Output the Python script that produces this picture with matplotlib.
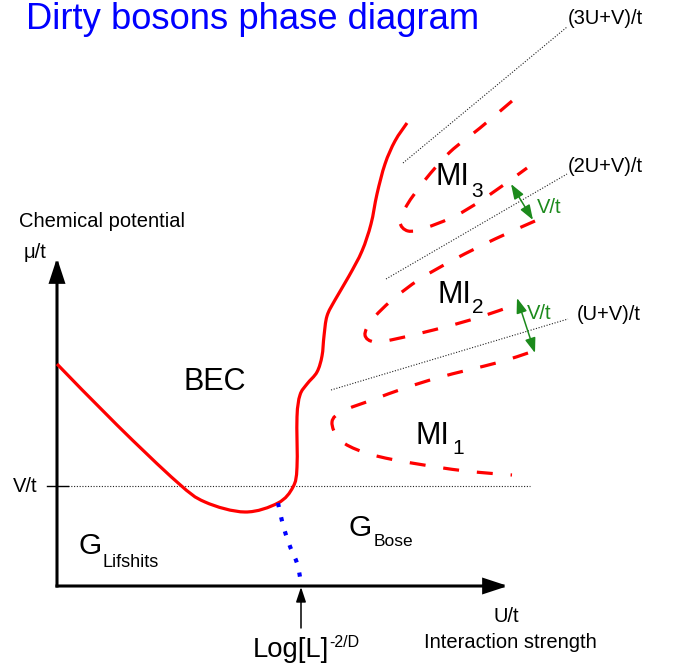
import numpy as np
import matplotlib
matplotlib.use("Agg")
import matplotlib.pyplot as plt
from matplotlib.path import Path
from matplotlib.patches import PathPatch, FancyArrowPatch

plt.rcParams['font.family'] = ['Liberation Sans', 'DejaVu Sans']

# ---- schematic data (U/t along x, mu/t along y, arbitrary units) ----
# BEC / insulator boundary (solid)
bec_u = [0.00, 0.60, 1.20, 1.48, 1.88, 2.21, 2.36, 2.40, 2.40, 2.43, 2.50, 2.60,
         2.65, 2.67, 2.70, 2.78, 2.92, 3.05, 3.14, 3.20, 3.28, 3.38, 3.50]
bec_mu = [2.22, 1.61, 1.04, 0.84, 0.74, 0.83, 0.99, 1.19, 1.69, 1.91, 2.02, 2.14,
          2.30, 2.50, 2.70, 2.86, 3.10, 3.35, 3.62, 3.92, 4.22, 4.45, 4.63]

# Mott lobes (dashed)
mi1_u = [4.71, 4.43, 4.11, 3.80, 3.48, 3.15, 2.86, 2.75, 2.83, 3.06, 3.38, 3.86, 4.18, 4.55]
mi1_mu = [2.33, 2.24, 2.16, 2.08, 1.98, 1.86, 1.75, 1.64, 1.46, 1.34, 1.26, 1.18, 1.14, 1.11]

mi2_u = [4.78, 4.38, 3.98, 3.63, 3.35, 3.15, 3.08, 3.18, 3.43, 3.88, 4.23, 4.55]
mi2_mu = [3.65, 3.47, 3.27, 3.07, 2.86, 2.66, 2.51, 2.44, 2.48, 2.59, 2.69, 2.80]

mi3_u = [4.55, 4.23, 3.93, 3.68, 3.50, 3.43, 3.51, 3.68, 3.98, 4.28, 4.70]
mi3_mu = [4.85, 4.58, 4.34, 4.06, 3.81, 3.64, 3.55, 3.58, 3.70, 3.88, 4.18]

# finite-size crossover (blue dotted)
fs_u = [2.21, 2.25, 2.29, 2.34, 2.40, 2.43]
fs_mu = [0.83, 0.65, 0.51, 0.37, 0.23, 0.09]

# reference lines mu = nU + V
ref_labels = ["(U+V)/t", "(2U+V)/t", "(3U+V)/t"]
ref_u0 = [2.74, 3.29, 3.46]
ref_mu0 = [1.96, 3.07, 4.23]
ref_u1 = [5.11, 5.10, 5.10]
ref_mu1 = [2.67, 4.12, 5.59]

v_level = 1.0          # V/t
v_line_end = 4.73
log_tick_u = 2.44      # Log[L]^(-2/D)
mu_axis_top = 3.28
u_axis_end = 4.51

RED = "#ff0000"
BLUE = "#0000ff"
GREEN = "#1c8a1c"


def smooth_path(x, y):
    """Cubic Bezier path running through the given knots."""
    p = np.column_stack([x, y]).astype(float)
    ext = np.vstack([p[0], p, p[-1]])
    verts = [p[0]]
    codes = [Path.MOVETO]
    for i in range(1, len(ext) - 2):
        p0, p1, p2, p3 = ext[i - 1], ext[i], ext[i + 1], ext[i + 2]
        verts += [p1 + (p2 - p0) / 6.0, p2 - (p3 - p1) / 6.0, p2]
        codes += [Path.CURVE4] * 3
    return Path(verts, codes)


fig = plt.figure(figsize=(6.73, 6.66), dpi=100)
ax = fig.add_axes([0, 0, 1, 1])
ax.set_xlim(-0.57, 6.16)
ax.set_ylim(-0.80, 5.86)
ax.axis('off')

# axes with arrow heads
for (x0, y0, x1, y1) in [(0, 0, 0, mu_axis_top), (0, 0, u_axis_end, 0)]:
    ax.add_patch(FancyArrowPatch((x0, y0), (x1, y1),
                                 arrowstyle="-|>,head_length=14,head_width=4.6",
                                 mutation_scale=1, lw=2.2, color="black",
                                 shrinkA=0, shrinkB=0, capstyle='projecting',
                                 joinstyle='miter', zorder=3))

# V/t level
ax.plot([-0.10, 0.11], [v_level, v_level], color="black", lw=1.0, zorder=3)
ax.plot([0.11, v_line_end], [v_level, v_level], color="#222222", lw=0.8,
        linestyle=(0, (1, 1.5)), zorder=1)

# reference lines
for u0, m0, u1, m1 in zip(ref_u0, ref_mu0, ref_u1, ref_mu1):
    ax.plot([u0, u1], [m0, m1], color="#222222", lw=0.8,
            linestyle=(0, (1, 1.5)), zorder=1)
label_pos = [(5.20, 2.66), (5.11, 4.14), (5.11, 5.62)]
for lab, (lx, ly) in zip(ref_labels, label_pos):
    ax.text(lx, ly, lab, fontsize=14.5, ha='left', va='baseline', color="black")

# phase boundaries
ax.add_patch(PathPatch(smooth_path(bec_u, bec_mu), fill=False, edgecolor=RED,
                       lw=2.3, capstyle='butt', zorder=4))
for xs, ys in [(mi1_u, mi1_mu), (mi2_u, mi2_mu), (mi3_u, mi3_mu)]:
    ax.add_patch(PathPatch(smooth_path(xs, ys), fill=False, edgecolor=RED,
                           lw=2.3, linestyle=(0, (5.0, 5.6)), capstyle='butt',
                           zorder=4))
ax.add_patch(PathPatch(smooth_path(fs_u, fs_mu), fill=False, edgecolor=BLUE,
                       lw=3.0, linestyle=(0, (1, 2.5)), capstyle='butt', zorder=4))

# V/t spacing arrows
for (a, b) in [((4.54, 4.02), (4.76, 3.66)), ((4.60, 2.88), (4.78, 2.33))]:
    ax.add_patch(FancyArrowPatch(a, b, arrowstyle="<|-|>,head_length=9,head_width=3.2",
                                 mutation_scale=1, lw=1.1, color=GREEN,
                                 shrinkA=0, shrinkB=0, zorder=5))
ax.text(4.80, 3.73, "V/t", fontsize=14.5, color=GREEN, ha='left', va='baseline')
ax.text(4.70, 2.67, "V/t", fontsize=14.5, color=GREEN, ha='left', va='baseline')

# Log[L] marker on the U axis
ax.add_patch(FancyArrowPatch((log_tick_u, -0.42), (log_tick_u, -0.01),
                             arrowstyle="-|>,head_length=9,head_width=3",
                             mutation_scale=1, lw=1.1, color="black",
                             shrinkA=0, shrinkB=0, zorder=5))
ax.text(1.96, -0.71, "Log[L]", fontsize=19.8, ha='left', va='baseline')
ax.text(2.72, -0.61, "-2/D", fontsize=11.5, ha='left', va='baseline')

# axis labels
ax.text(-0.38, 3.59, "Chemical potential", fontsize=14.5, ha='left', va='baseline')
ax.text(-0.33, 3.28, "\u03bc/t", fontsize=14.5, ha='left', va='baseline')
ax.text(-0.44, 0.94, "V/t", fontsize=14.5, ha='left', va='baseline')
ax.text(4.36, -0.36, "U/t", fontsize=14.5, ha='left', va='baseline')
ax.text(3.67, -0.62, "Interaction strength", fontsize=14.5, ha='left', va='baseline')

# phase names
ax.text(1.27, 1.96, "BEC", fontsize=22, ha='left', va='baseline')
ax.text(0.21, 0.32, "G", fontsize=21.5, ha='left', va='baseline')
ax.text(0.46, 0.19, "Lifshits", fontsize=13, ha='left', va='baseline')
ax.text(2.92, 0.50, "G", fontsize=21.5, ha='left', va='baseline')
ax.text(3.17, 0.40, "Bose", fontsize=12.5, ha='left', va='baseline')
for (mx, my), (sx, sy), sub in [((3.78, 4.01), (4.14, 3.89), "3"),
                                ((3.80, 2.83), (4.15, 2.73), "2"),
                                ((3.58, 1.42), (3.95, 1.32), "1")]:
    ax.text(mx, my, "MI", fontsize=22, ha='left', va='baseline')
    ax.text(sx, sy, sub, fontsize=15, ha='left', va='baseline')

# title
ax.text(-0.31, 5.57, "Dirty bosons phase diagram", fontsize=26.2, color=BLUE,
        ha='left', va='baseline')

fig.savefig("out.png", dpi=100)
